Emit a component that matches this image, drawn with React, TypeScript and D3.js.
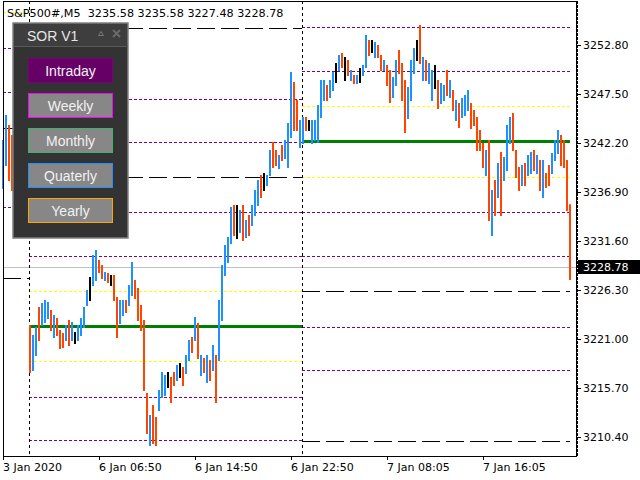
import React from 'react';
import * as d3 from 'd3';

// ---- Data (each bar = 15 minutes of M5 bars) ----
const barHigh = [
  3242.53, 3245.23, 3244.15, 3243.07, 3242.53, 3243.07, 3242.53, 3241.45, 3240.90,
  3222.51, 3221.43, 3222.30, 3224.46, 3224.89, 3225.22, 3225.00, 3224.14, 3223.60, 3223.27, 3221.97,
  3221.65, 3222.51, 3223.06, 3222.84, 3221.76, 3222.51, 3223.27, 3224.46, 3226.30, 3227.71,
  3230.09, 3230.63, 3229.55, 3229.00, 3228.25, 3228.14, 3227.92, 3227.92, 3225.54, 3225.22,
  3225.22, 3225.22, 3226.84, 3229.33, 3227.38, 3226.52, 3224.68, 3223.06, 3215.16, 3212.78,
  3213.86, 3212.56, 3215.48, 3217.43, 3217.11, 3217.43, 3216.89, 3217.43, 3218.19, 3218.40,
  3217.97, 3219.27, 3220.89, 3221.22, 3223.38, 3222.73, 3219.27, 3218.94, 3219.27, 3218.73,
  3220.35, 3219.27, 3225.22, 3229.00, 3231.17, 3232.03, 3235.28, 3235.50, 3235.50, 3234.95,
  3235.50, 3233.87, 3234.41, 3235.50, 3237.12, 3238.20, 3238.74, 3238.96, 3238.74, 3241.44,
  3242.31, 3241.44, 3240.90, 3241.99, 3242.53, 3244.37, 3249.88, 3248.80, 3246.85, 3244.69,
  3245.01, 3245.01, 3244.69, 3244.69, 3244.69, 3246.31, 3249.02, 3249.02, 3248.48, 3249.02,
  3249.88, 3250.86, 3251.72, 3251.94, 3251.50, 3251.18, 3250.10, 3249.56, 3249.56, 3250.31,
  3250.64, 3253.88, 3253.34, 3253.34, 3253.13, 3252.80, 3251.72, 3251.18, 3250.64, 3250.10,
  3249.34, 3251.18, 3252.26, 3250.86, 3249.02, 3248.26, 3251.18, 3252.48, 3253.34, 3254.97,
  3251.50, 3251.18, 3250.86, 3250.10, 3250.64, 3249.02, 3248.69, 3248.48, 3250.10, 3249.02,
  3247.93, 3246.85, 3246.53, 3247.07, 3247.39, 3247.93, 3246.53, 3245.77, 3245.01, 3243.61,
  3242.20, 3241.44, 3242.53, 3237.12, 3238.20, 3240.04, 3241.23, 3240.69, 3244.15, 3245.01,
  3245.45, 3241.44, 3239.61, 3239.82, 3240.04, 3240.90, 3241.23, 3241.44, 3240.90, 3240.36,
  3240.36, 3238.96, 3239.82, 3241.12, 3242.53, 3243.61, 3243.07, 3242.53, 3240.36, 3235.58,
];
const barLow = [
  3237.33, 3239.82, 3238.20, 3237.12, 3238.74, 3239.82, 3239.28, 3238.20, 3237.12,
  3217.43, 3217.65, 3219.27, 3220.89, 3222.51, 3222.84, 3223.27, 3221.97, 3221.22, 3221.43, 3220.03,
  3220.14, 3220.89, 3220.35, 3220.89, 3220.57, 3220.89, 3221.43, 3222.30, 3224.68, 3225.22,
  3226.84, 3227.38, 3228.25, 3227.60, 3227.38, 3227.17, 3226.84, 3225.22, 3221.22, 3222.73,
  3223.60, 3223.92, 3224.68, 3225.76, 3225.44, 3223.06, 3221.97, 3215.48, 3210.83, 3209.53,
  3209.75, 3209.53, 3213.32, 3214.73, 3214.94, 3215.81, 3214.19, 3216.02, 3216.57, 3216.89,
  3216.02, 3217.32, 3218.73, 3219.59, 3220.89, 3218.94, 3217.11, 3217.43, 3216.35, 3216.57,
  3217.65, 3214.19, 3218.73, 3223.06, 3227.92, 3229.33, 3231.38, 3232.25, 3231.93, 3232.57,
  3231.71, 3232.03, 3232.25, 3233.33, 3234.41, 3235.50, 3236.36, 3237.12, 3237.66, 3238.74,
  3239.61, 3239.82, 3239.50, 3240.36, 3240.58, 3239.61, 3242.85, 3243.61, 3243.61, 3241.77,
  3242.20, 3243.61, 3243.61, 3242.20, 3242.53, 3242.31, 3245.01, 3246.85, 3246.85, 3247.18,
  3247.93, 3248.80, 3250.10, 3250.42, 3249.02, 3249.56, 3249.02, 3248.69, 3248.69, 3248.80,
  3249.56, 3250.42, 3251.72, 3252.05, 3251.50, 3251.50, 3250.10, 3250.10, 3248.48, 3246.64,
  3247.18, 3248.48, 3249.77, 3246.85, 3243.39, 3244.91, 3246.85, 3249.77, 3251.18, 3250.86,
  3249.02, 3249.02, 3248.69, 3246.85, 3248.15, 3245.99, 3246.53, 3246.85, 3247.39, 3247.18,
  3245.77, 3244.69, 3243.93, 3245.01, 3245.23, 3245.77, 3243.82, 3244.15, 3241.44, 3241.44,
  3239.61, 3238.74, 3233.87, 3232.25, 3234.41, 3236.36, 3234.41, 3238.20, 3239.28, 3242.20,
  3241.44, 3238.52, 3237.12, 3237.66, 3237.66, 3238.74, 3238.96, 3239.28, 3238.96, 3237.12,
  3236.36, 3237.44, 3237.66, 3238.96, 3240.36, 3241.12, 3239.82, 3239.61, 3234.95, 3227.48,
];
// b = up bar, r = down bar, k = neutral
const barDirection = [
  'bbrrbrbrr', 'rbbrbbbrbrr', 'rbrbkbbbbk', 'bbrrbrkrrb', 'brbbrrrrrb',
  'rrbbbkrrbk', 'rbbrbrbrbr', 'brbbbbbrkb', 'rbrbbbrkbb', 'rrbrbbbrrb',
  'brkbbbbbrb', 'bkbrkrbrbk', 'bbrkbrrbrr', 'bbrrrbbbkr', 'brbbkrbbrb',
  'rbrbbbrrrr', 'rbrbrbrbbb', 'rrrbrbbrbr', 'brrbbbrrrr',
].join('');

const priceTicks = [3252.8, 3247.5, 3242.2, 3236.9, 3231.6, 3226.3, 3221.0, 3215.7, 3210.4];
const timeTickIndex = [0, 32, 64, 96, 128, 160];
const timeTickLabels = ['3 Jan 2020', '6 Jan 06:50', '6 Jan 14:50', '6 Jan 22:50', '7 Jan 08:05', '7 Jan 16:05'];
const sessionBreaks = [8.67, 99.67];

// level lines per session: p = purple, y = yellow, k = black, g = green (pivot)
const levelsA = [3256.37, 3252.48, 3247.72, 3243.82, 3235.28, 3227.6];
const kindsA = 'yppkpk';
const levelsB = [3254.64, 3246.96, 3242.31, 3238.52, 3234.74, 3229.98, 3226.19, 3222.41, 3218.62, 3214.73, 3210.08];
const kindsB = 'kppkppygypp';
const levelsC = [3254.75, 3249.99, 3246.2, 3242.42, 3238.52, 3234.74, 3229.98, 3226.19, 3222.3, 3217.65, 3209.97];
const kindsC = 'ppygyppkppk';

const lastPrice = 3228.78;
const titleText = 'S&P500#,M5  3235.58 3235.58 3227.48 3228.78';
const panelTitle = 'SOR V1';
const panelButtons = ['Intraday', 'Weekly', 'Monthly', 'Quaterly', 'Yearly'];
const buttonBorders = ['#7a007a', '#ff00ff', '#3cb371', '#1e90ff', '#ffa500'];
const buttonFills = ['#660066', '#878787', '#878787', '#878787', '#878787'];

const barColors: Record<string, string> = { b: '#1e90ff', r: '#ff4500', k: '#000000' };
const levelStyle: Record<string, { stroke: string; width: number; dash?: string }> = {
  p: { stroke: '#800080', width: 1, dash: '3,2' },
  y: { stroke: '#ffff00', width: 1, dash: '3,2' },
  k: { stroke: '#000000', width: 1, dash: '18,6' },
  g: { stroke: '#008000', width: 3 },
};

export default function App() {
  const left = 3, right = 577, top = 1, bottom = 456;
  const x = d3.scaleLinear().domain([0, 189]).range([3, 570]);
  const y = d3.scaleLinear().domain([3210.4, 3252.8]).range([437, 45]);
  const font = 'DejaVu Sans, Tahoma, sans-serif';

  const sessions = [
    { from: 0, to: sessionBreaks[0], levels: levelsA, kinds: kindsA },
    { from: sessionBreaks[0], to: sessionBreaks[1], levels: levelsB, kinds: kindsB },
    { from: sessionBreaks[1], to: 189, levels: levelsC, kinds: kindsC },
  ];

  const px = 13, py = 23, pw = 115, ph = 215;

  return (
    <svg width={640} height={480} style={{ position: 'absolute', left: 0, top: 0, background: '#fff' }}>
      <rect x={0} y={0} width={640} height={480} fill="#fff" />
      {/* level lines */}
      {sessions.map((s, si) =>
        s.levels.map((v, li) => {
          const st = levelStyle[s.kinds[li]];
          return (
            <line key={`l${si}-${li}`} x1={x(s.from)} x2={x(s.to)} y1={Math.round(y(v)) + 0.5} y2={Math.round(y(v)) + 0.5}
              stroke={st.stroke} strokeWidth={st.width} strokeDasharray={st.dash} />
          );
        })
      )}
      {/* current price line */}
      <line x1={left} x2={right} y1={Math.round(y(lastPrice)) + 0.5} y2={Math.round(y(lastPrice)) + 0.5} stroke="#c0c0c0" strokeWidth={1} />
      {/* session separators */}
      {sessionBreaks.map((b, i) => (
        <line key={`sep${i}`} x1={Math.round(x(b)) + 0.5} x2={Math.round(x(b)) + 0.5} y1={top} y2={bottom}
          stroke="#000" strokeWidth={1} strokeDasharray="3,3" />
      ))}
      {/* bars */}
      {barHigh.map((h, i) => (
        <line key={`b${i}`} x1={x(i)} x2={x(i)} y1={y(h)} y2={y(barLow[i]) + 1}
          stroke={barColors[barDirection[i]]} strokeWidth={2} />
      ))}
      {/* frame */}
      <line x1={left} x2={right} y1={top + 0.5} y2={top + 0.5} stroke="#000" />
      <line x1={left + 0.5} x2={left + 0.5} y1={top} y2={bottom} stroke="#000" />
      <line x1={left} x2={right} y1={bottom + 0.5} y2={bottom + 0.5} stroke="#000" />
      <line x1={right - 0.5} x2={right - 0.5} y1={top} y2={bottom} stroke="#000" />
      <line x1={right + 0.5} x2={right + 0.5} y1={top} y2={bottom} stroke="#000" strokeDasharray="3,1" />
      {/* price axis */}
      {priceTicks.map((t, i) => (
        <g key={`pt${i}`}>
          <line x1={right} x2={right + 4} y1={Math.round(y(t)) + 0.5} y2={Math.round(y(t)) + 0.5} stroke="#000" />
          <text x={583} y={y(t)} dy="0.36em" fontFamily={font} fontSize={11} fill="#000">{t.toFixed(2)}</text>
        </g>
      ))}
      <rect x={578} y={Math.round(y(lastPrice)) - 7} width={62} height={14} fill="#000" />
      <text x={583} y={y(lastPrice)} dy="0.36em" fontFamily={font} fontSize={11} fill="#fff">{lastPrice.toFixed(2)}</text>
      {/* time axis */}
      {timeTickIndex.map((t, i) => (
        <g key={`tt${i}`}>
          <line x1={Math.round(x(t)) + 0.5} x2={Math.round(x(t)) + 0.5} y1={bottom} y2={bottom + 4} stroke="#000" />
          <text x={x(t)} y={471} fontFamily={font} fontSize={11} fill="#000">{timeTickLabels[i]}</text>
        </g>
      ))}
      {/* title */}
      <text x={7} y={17} fontFamily={font} fontSize={11.2} fill="#000" style={{ whiteSpace: 'pre' }}>{titleText}</text>
      {/* panel */}
      <g>
        <rect x={px} y={py} width={pw} height={ph} fill="#333333" stroke="#808080" strokeWidth={1.5} />
        <rect x={px + 1} y={py + 1} width={pw - 2} height={22} fill="#3e3e3e" />
        <line x1={px} x2={px + pw} y1={py + 23.5} y2={py + 23.5} stroke="#5a5a5a" />
        <text x={27} y={41} fontFamily="Liberation Sans, Arial, sans-serif" fontSize={14} fill="#e6e6e6">{panelTitle}</text>
        <path d="M98.5,35.5 L101,31.5 L103.5,35.5 Z" fill="none" stroke="#777" strokeWidth={1} />
        <path d="M113,30 L120,37 M120,30 L113,37" stroke="#6a6a6a" strokeWidth={2} />
        {panelButtons.map((b, i) => (
          <g key={`btn${i}`}>
            <rect x={28.5} y={58.5 + i * 35} width={84} height={24} fill={buttonFills[i]} stroke={buttonBorders[i]} strokeWidth={1} />
            <text x={70.5} y={71 + i * 35} dy="0.36em" textAnchor="middle" fontFamily="Liberation Sans, Arial, sans-serif" fontSize={14} fill="#f2f2f2">{b}</text>
          </g>
        ))}
      </g>
    </svg>
  );
}
